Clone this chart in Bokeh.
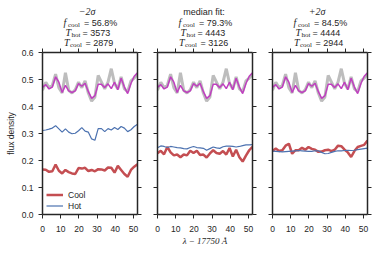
from bokeh.plotting import figure
from bokeh.layouts import row, column
from bokeh.models import Range1d, LinearAxis, FixedTicker, Label, Legend, LegendItem
from bokeh.embed import file_html
from bokeh.resources import INLINE

# ---------------- data ----------------
wave = [0.0, 1.8, 3.6, 5.4, 7.2, 9.0, 10.8, 12.6, 14.4, 16.2, 18.0, 19.8, 21.6, 23.4, 25.2,
        27.0, 28.8, 30.6, 32.4, 34.2, 36.0, 37.8, 39.6, 41.4, 43.2, 45.0, 46.8, 48.6, 50.4, 52.2]

data_flux = [0.460, 0.490, 0.470, 0.478, 0.520, 0.470, 0.450, 0.525, 0.460, 0.450, 0.462, 0.490,
             0.470, 0.495, 0.450, 0.420, 0.435, 0.515, 0.490, 0.465, 0.490, 0.540, 0.485, 0.465,
             0.510, 0.465, 0.455, 0.495, 0.505, 0.520]
model_flux = [0.471, 0.481, 0.465, 0.472, 0.510, 0.490, 0.452, 0.478, 0.458, 0.452, 0.458, 0.485,
              0.475, 0.486, 0.455, 0.430, 0.440, 0.482, 0.482, 0.470, 0.484, 0.466, 0.490, 0.462,
              0.505, 0.472, 0.448, 0.485, 0.512, 0.525]

cool_m2 = [0.167, 0.166, 0.158, 0.160, 0.185, 0.162, 0.152, 0.165, 0.157, 0.152, 0.150, 0.172,
           0.170, 0.173, 0.161, 0.165, 0.160, 0.168, 0.167, 0.163, 0.174, 0.173, 0.155, 0.180,
           0.165, 0.150, 0.140, 0.165, 0.177, 0.186]
hot_m2 = [0.311, 0.313, 0.316, 0.320, 0.329, 0.317, 0.305, 0.317, 0.305, 0.299, 0.301, 0.310,
          0.322, 0.309, 0.305, 0.280, 0.275, 0.318, 0.318, 0.307, 0.318, 0.313, 0.322, 0.315,
          0.326, 0.320, 0.307, 0.314, 0.326, 0.334]

cool_med = [0.227, 0.236, 0.223, 0.250, 0.230, 0.219, 0.222, 0.212, 0.222, 0.219, 0.236, 0.228,
            0.236, 0.220, 0.222, 0.211, 0.226, 0.238, 0.228, 0.225, 0.235, 0.222, 0.246, 0.215,
            0.240, 0.212, 0.196, 0.218, 0.238, 0.251]
hot_med = [0.247, 0.254, 0.252, 0.248, 0.252, 0.250, 0.248, 0.247, 0.244, 0.243, 0.248, 0.252,
           0.248, 0.247, 0.245, 0.238, 0.244, 0.250, 0.247, 0.245, 0.251, 0.253, 0.253, 0.252,
           0.250, 0.252, 0.255, 0.258, 0.258, 0.259]

cool_p2 = [0.235, 0.244, 0.235, 0.238, 0.255, 0.262, 0.225, 0.238, 0.238, 0.247, 0.240, 0.250,
           0.243, 0.240, 0.232, 0.233, 0.238, 0.240, 0.235, 0.240, 0.255, 0.253, 0.240, 0.230,
           0.213, 0.235, 0.250, 0.254, 0.258, 0.274]
hot_p2 = [0.235, 0.234, 0.233, 0.232, 0.233, 0.234, 0.235, 0.236, 0.237, 0.236, 0.235, 0.234,
          0.234, 0.236, 0.236, 0.230, 0.225, 0.226, 0.230, 0.234, 0.236, 0.236, 0.237, 0.238,
          0.237, 0.238, 0.240, 0.242, 0.244, 0.246]

panel_heads = ["\u22122\u03c3", "median fit:", "+2\u03c3"]
f_cool = ["56.8%", "79.3%", "84.5%"]
t_hot = ["3573", "4443", "4444"]
t_cool = ["2879", "3126", "2944"]
cool_series = [cool_m2, cool_med, cool_p2]
hot_series = [hot_m2, hot_med, hot_p2]

xticks = [0, 10, 20, 30, 40, 50]
yticks = [0.0, 0.1, 0.2, 0.3, 0.4, 0.5, 0.6]
ytick_labels = ["0.0", "0.1", "0.2", "0.3", "0.4", "0.5", "0.6"]
x_lo, x_hi = 0.0, 52.2
y_lo, y_hi = 0.0, 0.6

# ---------------- layout / styles ----------------
TOTAL_W = 374
HEAD_H = 48
FRAME_W, FRAME_H = 95, 162
LEFT_B = [42, 10, 10]
RIGHT_B = [10, 10, 7]
INK = "#262626"
SANS = "Liberation Sans"
SERIF = "Liberation Serif"
C_DATA = "#BDBDBD"
C_MODEL = "#BF3FBF"
C_COOL = "#C44E52"
C_HOT = "#4C72B0"


def style_axis(ax, ticks, labels=None, standoff=4):
    ax.ticker = FixedTicker(ticks=ticks)
    ax.major_tick_out = 4
    ax.major_tick_in = 0
    ax.minor_tick_out = 0
    ax.minor_tick_in = 0
    ax.axis_line_color = INK
    ax.axis_line_width = 1.5
    ax.major_tick_line_color = INK
    ax.major_tick_line_width = 1
    ax.major_label_text_font = SANS
    ax.major_label_text_font_size = "8.5px"
    ax.major_label_text_color = INK
    ax.major_label_standoff = standoff
    if labels is None:
        ax.major_label_overrides = {t: "" for t in ticks}
    else:
        ax.major_label_overrides = {t: l for t, l in zip(ticks, labels)}


# ---------- heading strip (titles above the panels) ----------
head = figure(width=TOTAL_W, height=HEAD_H, x_range=Range1d(0, TOTAL_W),
              y_range=Range1d(HEAD_H, 0), output_backend="svg", toolbar_location=None,
              x_axis_location=None, y_axis_location=None, min_border=0,
              background_fill_color="white", border_fill_color="white")
head.outline_line_color = None
head.grid.visible = False


def add_text(cx, dx, y, text, font, size, style="normal", align="left"):
    head.add_layout(Label(x=cx + dx, y=y, text=text, text_font=font, text_font_size=size,
                          text_font_style=style, text_color=INK, text_align=align,
                          text_baseline="middle"))


panels = []
x_cursor = 0
for i in range(3):
    p = figure(frame_width=FRAME_W, frame_height=FRAME_H, x_range=Range1d(x_lo, x_hi),
               y_range=Range1d(y_lo, y_hi), output_backend="svg", toolbar_location=None,
               min_border_left=LEFT_B[i], min_border_right=RIGHT_B[i], min_border_top=4,
               min_border_bottom=40, background_fill_color="white", border_fill_color="white")
    p.outline_line_color = None
    p.xgrid.visible = False
    p.ygrid.visible = False

    bottom = p.below[0]
    left = p.left[0]
    style_axis(bottom, xticks, [str(t) for t in xticks], standoff=7)
    style_axis(left, yticks, ytick_labels if i == 0 else None, standoff=5)
    top = LinearAxis()
    style_axis(top, xticks)
    p.add_layout(top, "above")
    right = LinearAxis()
    style_axis(right, yticks)
    p.add_layout(right, "right")

    if i == 0:
        left.axis_label = "flux density"
        left.axis_label_text_font = SANS
        left.axis_label_text_font_size = "8.5px"
        left.axis_label_text_font_style = "normal"
        left.axis_label_text_color = INK
        left.axis_label_standoff = 3
    if i == 1:
        bottom.axis_label = "\u03bb \u2212 17750 \u00c5"
        bottom.axis_label_text_font = SERIF
        bottom.axis_label_text_font_size = "9px"
        bottom.axis_label_text_font_style = "italic"
        bottom.axis_label_text_color = INK
        bottom.axis_label_standoff = 1

    p.line(wave, data_flux, line_color=C_DATA, line_width=3)
    p.line(wave, model_flux, line_color=C_MODEL, line_width=1.5)
    r_cool = p.line(wave, cool_series[i], line_color=C_COOL, line_width=2.5)
    r_hot = p.line(wave, hot_series[i], line_color=C_HOT, line_width=1.2)

    if i == 0:
        leg = Legend(items=[LegendItem(label="Cool", renderers=[r_cool]),
                            LegendItem(label="Hot", renderers=[r_hot])],
                     location=(4, 3), glyph_width=17, glyph_height=11, label_height=11,
                     label_standoff=5, spacing=0, padding=2, margin=0,
                     border_line_color=None, background_fill_alpha=0,
                     label_text_font=SANS, label_text_font_size="8.5px",
                     label_text_color=INK)
        p.add_layout(leg)

    # title block for this panel, centred on its frame
    cx = x_cursor + LEFT_B[i] + FRAME_W / 2
    if i == 1:
        add_text(cx, -1, 11, panel_heads[i], SANS, "9px", align="center")
    else:
        add_text(cx, -3, 11, panel_heads[i], SERIF, "10px", style="italic", align="center")
    add_text(cx, -26.5, 22, "f", SERIF, "10px", style="italic")
    add_text(cx, -22, 24.2, "cool", SERIF, "7px")
    add_text(cx, -6, 22, "= " + f_cool[i], SANS, "9px")
    add_text(cx, -24.5, 32, "T", SERIF, "10px", style="italic")
    add_text(cx, -18.5, 34.2, "hot", SERIF, "7px")
    add_text(cx, -7.5, 32, "= " + t_hot[i], SANS, "9px")
    add_text(cx, -26, 42, "T", SERIF, "10px", style="italic")
    add_text(cx, -20, 44.2, "cool", SERIF, "7px")
    add_text(cx, -4.5, 42, "= " + t_cool[i], SANS, "9px")

    x_cursor += LEFT_B[i] + FRAME_W + RIGHT_B[i]
    panels.append(p)

layout = column(head, row(*panels))
open("out.html", "w").write(file_html(layout, INLINE))
